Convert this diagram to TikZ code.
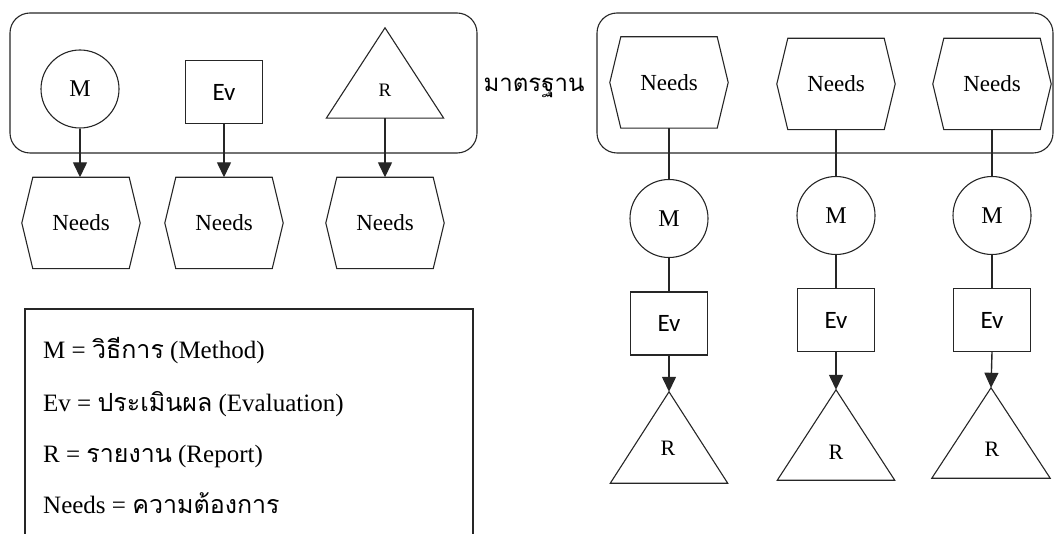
\documentclass[tikz,border=0pt]{standalone}
\usepackage{fontspec}
\setmainfont{Liberation Serif}
\newfontfamily\thaifont[Script=Thai]{Loma}
\newfontfamily\evfont{Carlito}
\usetikzlibrary{arrows.meta,calc}
\newcommand\hexdraw[1]{\draw[shapeline] ($(#1.north west)+(11,0)$) -- ($(#1.north east)+(-11,0)$) -- (#1.east) -- ($(#1.south east)+(-11,0)$) -- ($(#1.south west)+(11,0)$) -- (#1.west) -- cycle;}
\newcommand\tridraw[1]{\draw[shapeline] (#1.north) -- (#1.south east) -- (#1.south west) -- cycle;}
\newcommand\thaitext[1]{{\thaifont\fontsize{25}{29}\selectfont #1}}
\begin{document}
\begin{tikzpicture}[x=1pt,y=-1pt,
  shapeline/.style={draw=black!85, line width=1.1pt},
  hexbox/.style={rectangle, draw=none, minimum width=118pt, minimum height=91pt, inner sep=0pt, font=\fontsize{23}{27}\selectfont},
  mcircle/.style={circle, shapeline, minimum size=78pt, inner sep=0pt, font=\fontsize{24}{28}\selectfont},
  evbox/.style={rectangle, shapeline, minimum width=77pt, minimum height=63pt, inner sep=0pt, font=\evfont\fontsize{25}{30}\selectfont},
  tribox/.style={rectangle, draw=none, minimum width=117pt, minimum height=91pt, inner sep=0pt},
  rtext/.style={inner sep=0pt, font=\fontsize{22}{26}\selectfont},
  link/.style={draw=black!85, line width=1.4pt},
  arr/.style={link, -{Triangle[length=15pt,width=14pt]}},
  group/.style={draw=black!85, line width=1.1pt, rounded corners=20pt},
  legendline/.style={anchor=base west, inner sep=0pt, font=\fontsize{25}{29}\selectfont},
]
\useasboundingbox (0,0) rectangle (1054,534);

% ---- top-left group ----
\draw[group] (10,13) rectangle (477,153);
\node[mcircle] (m0) at (80,89) {M};
\node[evbox] (e0) at (224,92) {Ev};
\node[tribox, minimum height=90pt] (r0) at (385,73) {};
\tridraw{r0}
\node[rtext, font=\fontsize{19}{23}\selectfont] (r0t) at (385,90) {R};

\node[hexbox] (n0) at (81,223) {Needs};
\hexdraw{n0}
\node[hexbox] (n1) at (224,223) {Needs};
\hexdraw{n1}
\node[hexbox] (n2) at (385,223) {Needs};
\hexdraw{n2}

\draw[arr] (m0.south) -- (m0.south |- n0.north);
\draw[arr] (e0.south) -- (e0.south |- n1.north);
\draw[arr] (r0.south) -- (r0.south |- n2.north);

% ---- label ----
\node[inner sep=0pt, font=\thaifont\fontsize{24}{28}\selectfont] (std) at (534,88) {มาตรฐาน};

% ---- right group ----
\draw[group] (597,13) rectangle (1053,153);
\node[hexbox] (h1) at (669,82.5) {Needs};
\hexdraw{h1}
\node[hexbox] (h2) at (836,84) {Needs};
\hexdraw{h2}
\node[hexbox] (h3) at (992,84) {Needs};
\hexdraw{h3}

\node[mcircle] (c1) at (669,218.5) {M};
\node[mcircle] (c2) at (836,215.5) {M};
\node[mcircle] (c3) at (992,215.5) {M};

\node[evbox] (v1) at (669,323.5) {Ev};
\node[evbox] (v2) at (836,320) {Ev};
\node[evbox] (v3) at (992,320) {Ev};

\node[tribox] (t1) at (669,437.5) {};
\tridraw{t1}
\node[tribox, minimum height=90pt] (t2) at (836,435) {};
\tridraw{t2}
\node[tribox, minimum height=90pt, minimum width=118pt] (t3) at (991,433) {};
\tridraw{t3}
\node[rtext] (t1r) at (668,448) {R};
\node[rtext] (t2r) at (836,452) {R};
\node[rtext] (t3r) at (992,449) {R};

\draw[link] (h1.south) -- (c1.north);
\draw[link] (h2.south) -- (c2.north);
\draw[link] (h3.south) -- (c3.north);
\draw[link] (c1.south) -- (v1.north);
\draw[link] (c2.south) -- (v2.north);
\draw[link] (c3.south) -- (v3.north);
\draw[arr] (v1.south) -- (t1.north);
\draw[arr] (v2.south) -- (t2.north);
\draw[arr] (v3.south) -- (t3.north);

% ---- legend ----
\draw[shapeline] (25,534) -- (25,309) -- (473,309) -- (473,534);
\node[legendline] (l1) at (43,359) {M = \thaitext{วิธีการ} (Method)};
\node[legendline] (l2) at (43,411) {Ev = \thaitext{ประเมินผล} (Evaluation)};
\node[legendline] (l3) at (43,462) {R = \thaitext{รายงาน} (Report)};
\node[legendline] (l4) at (43,513) {Needs = \thaitext{ความต้องการ}};
\end{tikzpicture}
\end{document}
